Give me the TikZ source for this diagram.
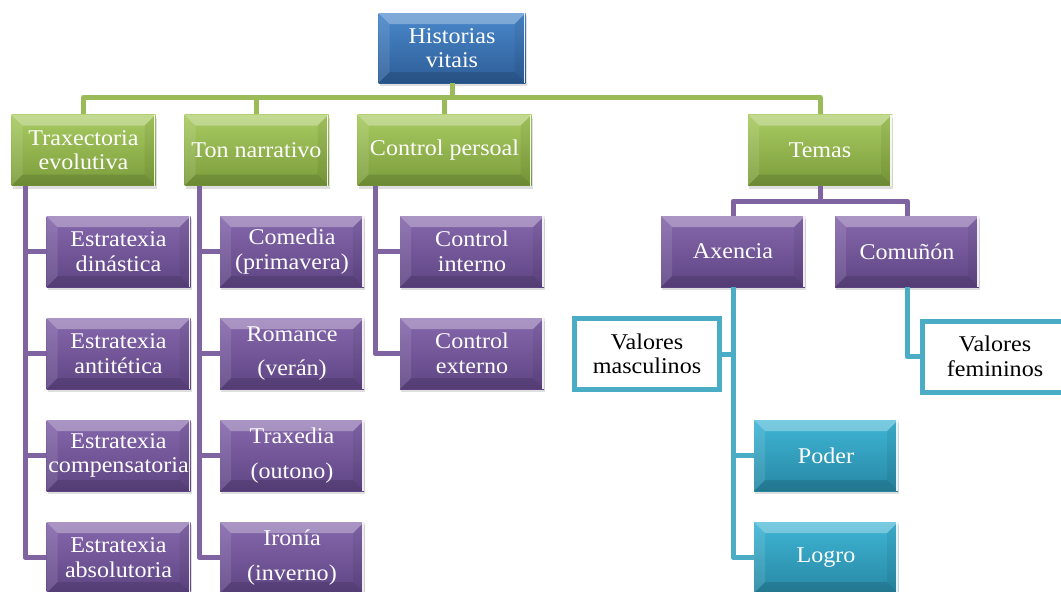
\documentclass[tikz,border=0pt]{standalone}
\usepackage{fontspec}
\setmainfont[FakeStretch=1.07]{Liberation Serif}
\usetikzlibrary{shadows}
\definecolor{gtop}{HTML}{A9CB62}
\definecolor{gbot}{HTML}{7B9C3B}
\definecolor{ptop}{HTML}{8668AC}
\definecolor{pbot}{HTML}{5F4584}
\definecolor{btop}{HTML}{4A88CB}
\definecolor{bbot}{HTML}{2D5D97}
\definecolor{ctop}{HTML}{3FB5D5}
\definecolor{cbot}{HTML}{2788A4}
\definecolor{gline}{HTML}{9BBB59}
\definecolor{pline}{HTML}{8064A2}
\definecolor{cline}{HTML}{4BACC6}
\tikzset{
  bevel/.style={path picture={
    \fill[white,opacity=.30] (path picture bounding box.north west) -- (path picture bounding box.north east)
      -- ([shift={(-11pt,-11pt)}]path picture bounding box.north east) -- ([shift={(11pt,-11pt)}]path picture bounding box.north west) -- cycle;
    \fill[black,opacity=.12] (path picture bounding box.south west) -- (path picture bounding box.south east)
      -- ([shift={(-11pt,11pt)}]path picture bounding box.south east) -- ([shift={(11pt,11pt)}]path picture bounding box.south west) -- cycle;
    \fill[white,opacity=.10] (path picture bounding box.north west) -- ([shift={(11pt,-11pt)}]path picture bounding box.north west)
      -- ([shift={(11pt,11pt)}]path picture bounding box.south west) -- (path picture bounding box.south west) -- cycle;
    \fill[black,opacity=.06] (path picture bounding box.north east) -- ([shift={(-11pt,-11pt)}]path picture bounding box.north east)
      -- ([shift={(-11pt,11pt)}]path picture bounding box.south east) -- (path picture bounding box.south east) -- cycle;
    \draw[white,line width=1.6pt,opacity=.9] ([xshift=-1pt]path picture bounding box.north east) -- ([xshift=-1pt]path picture bounding box.south east);
  }},
  box/.style={minimum width=144pt, minimum height=71pt, inner sep=1pt, align=center,
    text=white, font=\fontsize{22.5}{24.5}\selectfont,
    drop shadow={shadow xshift=1pt, shadow yshift=-3pt, opacity=.25}, bevel},
  gbox/.style={box, top color=gtop, bottom color=gbot},
  pbox/.style={box, top color=ptop, bottom color=pbot},
  bbox/.style={box, top color=btop, bottom color=bbot},
  cbox/.style={box, top color=ctop, bottom color=cbot},
  wbox/.style={draw=cline, line width=5pt, fill=white, minimum width=145pt, minimum height=71pt,
    inner sep=1pt, align=center, text=black, font=\fontsize{22.5}{24.5}\selectfont},
  gconn/.style={draw=gline, line width=5pt, line join=round},
  pconn/.style={draw=pline, line width=5pt, line join=round},
  cconn/.style={draw=cline, line width=5pt, line join=round},
}
\begin{document}
\begin{tikzpicture}[x=1pt,y=-1pt]
\useasboundingbox (0,0) rectangle (1061,592);
\clip (0,0) rectangle (1061,592);
\coordinate (gbar) at (450,97.5);
\coordinate (pbar) at (820,201);
\coordinate (tx) at (25,0);
\coordinate (nx) at (199,0);
\coordinate (px) at (375,0);

\node[bbox, minimum width=147pt, minimum height=70pt] (hv) at (452,48) {Historias\\vitais};
\node[gbox] (trax) at (83.5,150) {Traxectoria\\evolutiva};
\node[gbox] (ton) at (256.5,150) {Ton narrativo};
\node[gbox, minimum width=174pt] (cp) at (444.5,150) {Control persoal};
\node[gbox] (temas) at (820,150) {Temas};

\node[pbox] (e1) at (118.5,251.5) {Estratexia\\dinástica};
\node[pbox] (e2) at (118.5,353.5) {Estratexia\\antitética};
\node[pbox] (e3) at (118.5,455.5) {Estratexia\\compensatoria};
\node[pbox] (e4) at (118.5,557.5) {Estratexia\\absolutoria};

\node[pbox] (t1) at (292,251.5) {Comedia\\(primavera)};
\node[pbox] (t2) at (292,353.5) {Romance\\[10pt](verán)};
\node[pbox] (t3) at (292,455.5) {Traxedia\\[10pt](outono)};
\node[pbox] (t4) at (292,557.5) {Ironía\\[10pt](inverno)};

\node[pbox] (ci) at (472,251.5) {Control\\interno};
\node[pbox] (ce) at (472,353.5) {Control\\externo};

\node[pbox] (ax) at (733,251.5) {Axencia};
\node[pbox] (com) at (907,251.5) {Comuñón};

\node[wbox] (vm) at (647,354) {Valores\\masculinos};
\node[wbox] (vf) at (995,356.5) {Valores\\femininos};
\node[cbox] (poder) at (826,455.5) {Poder};
\node[cbox] (logro) at (826,557.5) {Logro};

\path[gconn] (hv.south) -- (hv.south|-gbar) -| (trax.north);
\path[gconn] (hv.south|-gbar) -| (ton.north);
\path[gconn] (hv.south|-gbar) -| (cp.north);
\path[gconn] (hv.south|-gbar) -| (temas.north);

\path[pconn] (trax.south-|tx) |- (e1.west);
\path[pconn] (trax.south-|tx) |- (e2.west);
\path[pconn] (trax.south-|tx) |- (e3.west);
\path[pconn] (trax.south-|tx) |- (e4.west);
\path[pconn] (ton.south-|nx) |- (t1.west);
\path[pconn] (ton.south-|nx) |- (t2.west);
\path[pconn] (ton.south-|nx) |- (t3.west);
\path[pconn] (ton.south-|nx) |- (t4.west);
\path[pconn] (cp.south-|px) |- (ci.west);
\path[pconn] (cp.south-|px) |- (ce.west);
\path[pconn] (temas.south) -- (pbar) -| (ax.north);
\path[pconn] (pbar) -| (com.north);

\path[cconn] (ax.south) |- (poder.west);
\path[cconn] (ax.south) |- (logro.west);
\path[cconn] (ax.south|-vm.east) -- (vm.east);
\path[cconn] (com.south) |- (vf.west);
\end{tikzpicture}
\end{document}
